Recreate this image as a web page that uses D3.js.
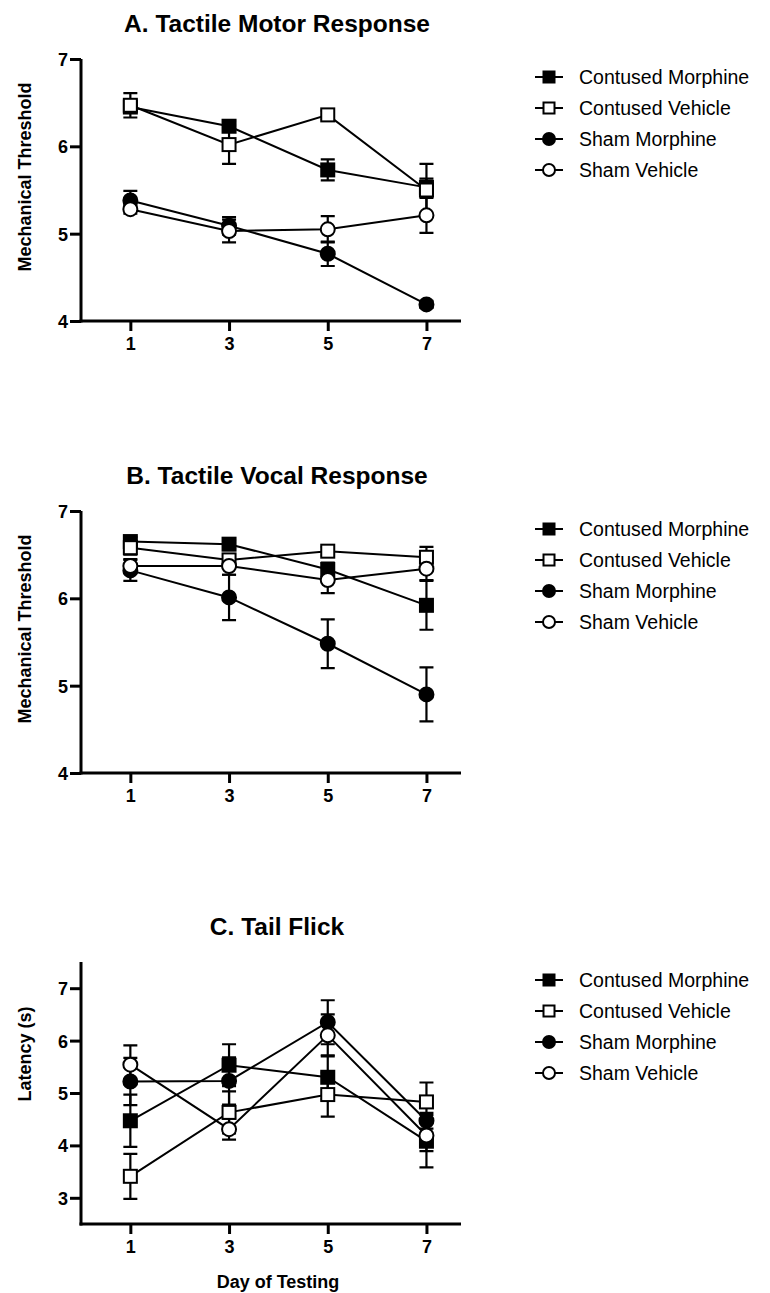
<!DOCTYPE html>
<html>
<head>
<meta charset="utf-8">
<script src="https://cdn.jsdelivr.net/npm/d3@7"></script>
<style>
  body { margin: 0; background: #fff; }
  svg { display: block; font-family: 'Liberation Sans', Arial, sans-serif; }
  .axis path, .axis line { stroke: #000; stroke-width: 3px; }
  .axis text { font-size: 18px; font-weight: bold; fill: #000; }
  .title { font-size: 24.5px; font-weight: bold; }
  .ylabel, .xlabel { font-size: 18px; font-weight: bold; }
  .legend text { font-size: 19.5px; }
</style>
</head>
<body>
<script>
// data

const days = [1, 3, 5, 7]
const groups = ['Contused Morphine', 'Contused Vehicle', 'Sham Morphine', 'Sham Vehicle']

// order of rows follows groups
const motorMean = [
  [6.45, 6.23, 5.73, 5.53],
  [6.47, 6.02, 6.36, 5.50],
  [5.38, 5.09, 4.77, 4.19],
  [5.28, 5.03, 5.05, 5.21]
]
const motorSem = [
  [0.05, 0.06, 0.12, 0.10],
  [0.14, 0.22, 0.05, 0.30],
  [0.11, 0.10, 0.14, 0.04],
  [0.05, 0.13, 0.15, 0.20]
]

const vocalMean = [
  [6.65, 6.62, 6.33, 5.92],
  [6.58, 6.44, 6.54, 6.47],
  [6.32, 6.01, 5.48, 4.90],
  [6.37, 6.37, 6.21, 6.34]
]
const vocalSem = [
  [0.05, 0.05, 0.08, 0.28],
  [0.08, 0.06, 0.05, 0.12],
  [0.12, 0.26, 0.28, 0.31],
  [0.08, 0.10, 0.15, 0.13]
]

const tailMean = [
  [4.47, 5.53, 5.30, 4.08],
  [3.41, 4.63, 4.97, 4.83],
  [5.22, 5.23, 6.35, 4.47],
  [5.54, 4.31, 6.10, 4.19]
]
const tailSem = [
  [0.50, 0.40, 0.42, 0.50],
  [0.43, 0.40, 0.42, 0.37],
  [0.45, 0.45, 0.42, 0.15],
  [0.37, 0.20, 0.40, 0.30]
]

const thresholdTicks = [4, 5, 6, 7]
const latencyTicks = [3, 4, 5, 6, 7]

// layout

const WIDTH = 770, HEIGHT = 1293
const AXIS_X = 81, AXIS_END = 461
const PLOT_H = 262
const MARKERS = ['square', 'square', 'circle', 'circle']
const FILLED = [true, false, true, false]

const panels = [
  { title: 'A. Tactile Motor Response', ylabel: 'Mechanical Threshold', top: 59,
    domain: [4, 7], ticks: thresholdTicks, mean: motorMean, sem: motorSem, labelOff: 118 },
  { title: 'B. Tactile Vocal Response', ylabel: 'Mechanical Threshold', top: 511,
    domain: [4, 7], ticks: thresholdTicks, mean: vocalMean, sem: vocalSem, labelOff: 118 },
  { title: 'C. Tail Flick', ylabel: 'Latency (s)', top: 962,
    domain: [2.5, 7.5], ticks: latencyTicks, mean: tailMean, sem: tailSem, labelOff: 92 }
]

const svg = d3.select('body').append('svg')
  .attr('width', WIDTH)
  .attr('height', HEIGHT)

const x = d3.scaleLinear()
  .domain([0, 7.7])
  .range([AXIS_X, AXIS_END])

function marker(sel, kind, filled, size) {
  if (kind === 'square') {
    sel.append('rect')
      .attr('x', -size / 2).attr('y', -size / 2)
      .attr('width', size).attr('height', size)
  } else {
    sel.append('circle').attr('r', size / 2 + 0.5)
  }
  sel.selectAll('rect, circle')
    .attr('fill', filled ? '#000' : '#fff')
    .attr('stroke', '#000')
    .attr('stroke-width', 2)
}

panels.forEach((p) => {
  const y = d3.scaleLinear()
    .domain(p.domain)
    .range([p.top + PLOT_H, p.top])

  const g = svg.append('g')

  g.append('text')
    .attr('class', 'title')
    .attr('x', 277)
    .attr('y', p.top - 27)
    .attr('text-anchor', 'middle')
    .text(p.title)

  // axes
  g.append('g')
    .attr('class', 'axis')
    .attr('transform', 'translate(' + [AXIS_X, 0] + ')')
    .call(d3.axisLeft(y).tickValues(p.ticks).tickFormat(d3.format('d'))
      .tickSize(11).tickSizeOuter(0).tickPadding(2))
    .call((a) => a.select('.domain').attr('d', 'M0,' + p.top + 'V' + (p.top + PLOT_H + 1.5)))
    .selectAll('text').attr('dy', '0.36em')

  g.append('g')
    .attr('class', 'axis')
    .attr('transform', 'translate(' + [0, p.top + PLOT_H] + ')')
    .call(d3.axisBottom(x).tickValues(days).tickFormat(d3.format('d'))
      .tickSize(10).tickSizeOuter(0).tickPadding(6))
    .call((a) => a.select('.domain').attr('d', 'M' + (AXIS_X - 1.5) + ',0H' + AXIS_END))

  g.append('text')
    .attr('class', 'ylabel')
    .attr('transform', 'translate(' + [31, p.top + p.labelOff] + ') rotate(-90)')
    .attr('text-anchor', 'middle')
    .text(p.ylabel)

  // series
  const line = d3.line()
    .x((d, i) => x(days[i]))
    .y((d) => y(d))

  groups.forEach((name, gi) => {
    const s = g.append('g').attr('class', 'series')
    s.append('path')
      .attr('d', line(p.mean[gi]))
      .attr('fill', 'none')
      .attr('stroke', '#000')
      .attr('stroke-width', 2)

    p.mean[gi].forEach((m, i) => {
      const e = p.sem[gi][i]
      const cx = x(days[i])
      s.append('path')
        .attr('d', 'M' + cx + ',' + y(m + e) + 'V' + y(m - e) +
                   'M' + (cx - 7) + ',' + y(m + e) + 'h14' +
                   'M' + (cx - 7) + ',' + y(m - e) + 'h14')
        .attr('fill', 'none')
        .attr('stroke', '#000')
        .attr('stroke-width', 2.2)
    })
  })

  groups.forEach((name, gi) => {
    p.mean[gi].forEach((m, i) => {
      g.append('g')
        .attr('transform', 'translate(' + [x(days[i]), y(m)] + ')')
        .call(marker, MARKERS[gi], FILLED[gi], 13)
    })
  })

  // legend
  const legend = g.append('g').attr('class', 'legend')
  groups.forEach((name, gi) => {
    const ly = p.top + 18 + gi * 31
    const row = legend.append('g').attr('transform', 'translate(' + [549, ly] + ')')
    row.append('line')
      .attr('x1', -14).attr('x2', 14)
      .attr('stroke', '#000').attr('stroke-width', 2)
    row.append('g').call(marker, MARKERS[gi], FILLED[gi], 11)
    row.append('text')
      .attr('x', 30)
      .attr('dy', '0.35em')
      .text(name)
  })
})

svg.append('text')
  .attr('class', 'xlabel')
  .attr('x', 278)
  .attr('y', 1288)
  .attr('text-anchor', 'middle')
  .text('Day of Testing')
</script>
</body>
</html>
